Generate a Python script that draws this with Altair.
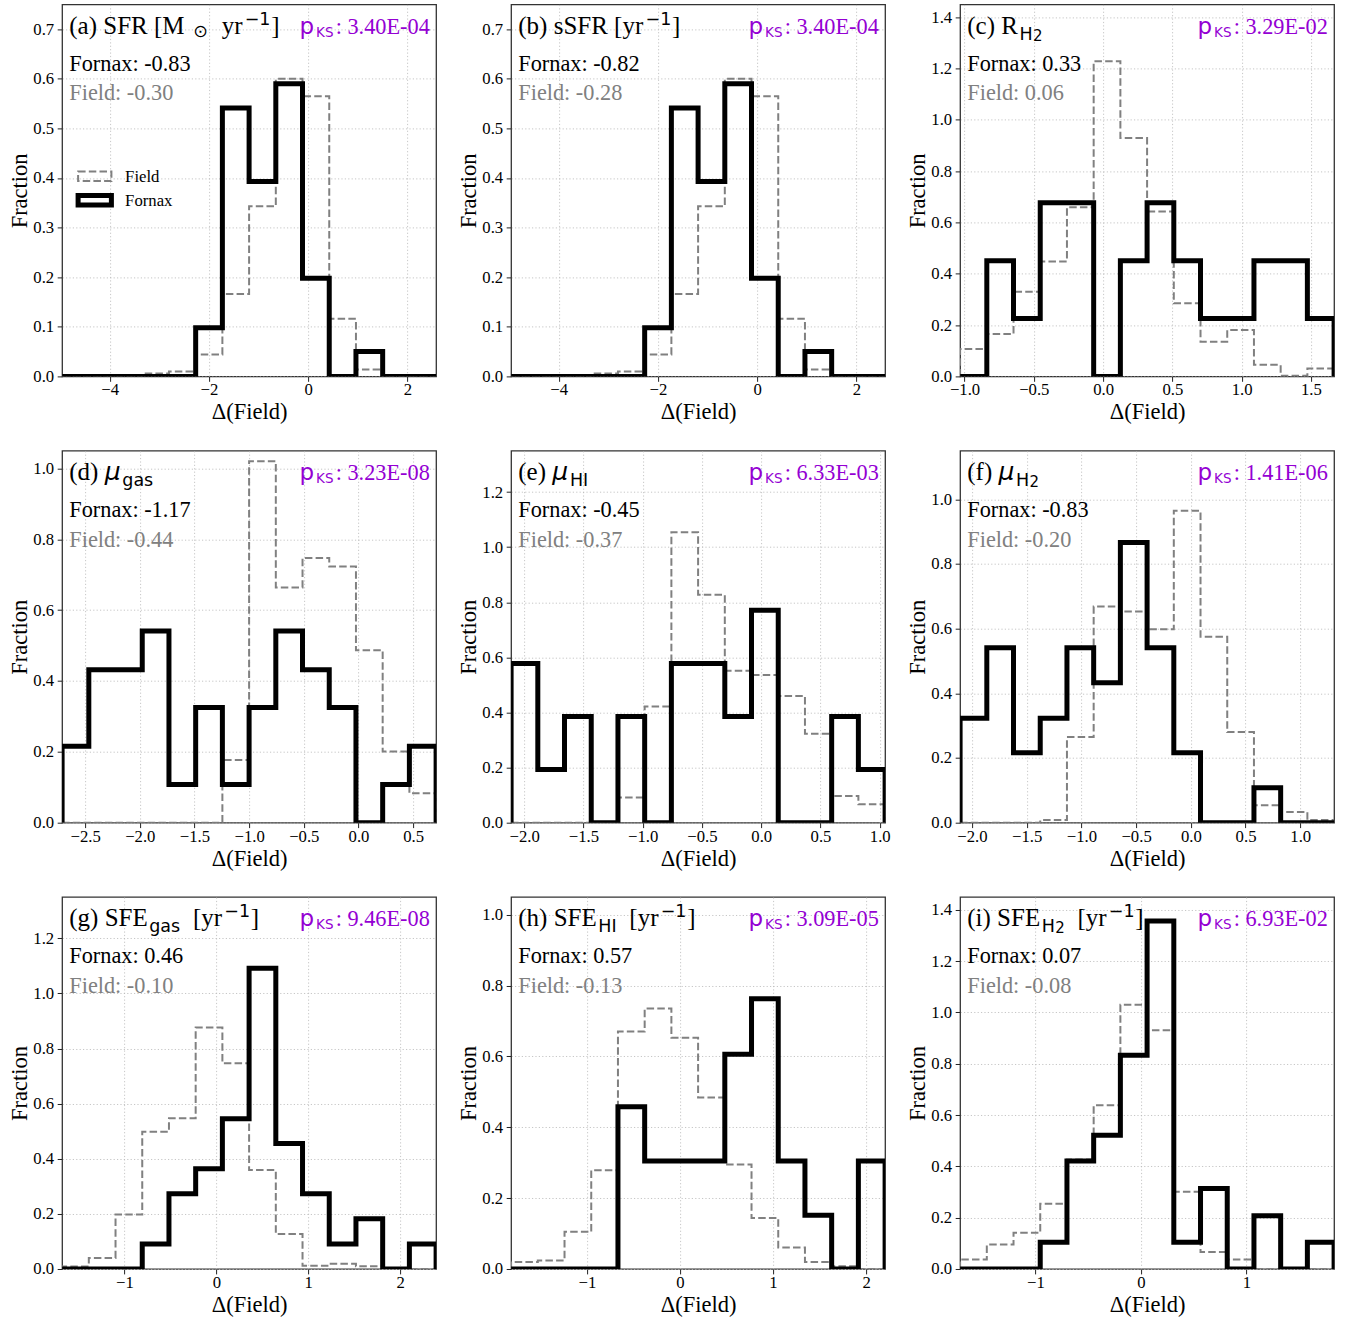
import altair as alt
import numpy as np
import pandas as pd

# ---------------- data ----------------
panel_ids = ["a", "b", "c", "d", "e", "f", "g", "h", "i"]

# histogram bin range (14 equal bins) = x-axis range
x_ranges = {
    "a": [-4.96, 2.58], "b": [-4.96, 2.58], "c": [-1.032, 1.667],
    "d": [-2.711, 0.710], "e": [-2.110, 1.045], "f": [-2.108, 1.309],
    "g": [-1.678, 2.391], "h": [-1.814, 2.204], "i": [-1.713, 1.830],
}

fornax = {
    "a": [0, 0, 0, 0, 0, 0.098, 0.541, 0.393, 0.590, 0.198, 0, 0.050, 0, 0],
    "b": [0, 0, 0, 0, 0, 0.098, 0.541, 0.393, 0.590, 0.198, 0, 0.050, 0, 0],
    "c": [0, 0.451, 0.2255, 0.677, 0.677, 0, 0.451, 0.677, 0.451, 0.2255, 0.2255, 0.451, 0.451, 0.2255],
    "d": [0.216, 0.432, 0.432, 0.541, 0.108, 0.325, 0.108, 0.325, 0.541, 0.432, 0.325, 0, 0.108, 0.216],
    "e": [0.578, 0.193, 0.385, 0, 0.385, 0, 0.578, 0.578, 0.385, 0.771, 0, 0, 0.385, 0.193],
    "f": [0.323, 0.541, 0.216, 0.323, 0.541, 0.433, 0.866, 0.541, 0.216, 0, 0, 0.108, 0, 0],
    "g": [0, 0, 0, 0.091, 0.273, 0.364, 0.545, 1.091, 0.455, 0.273, 0.091, 0.182, 0, 0.091],
    "h": [0, 0, 0, 0, 0.458, 0.305, 0.305, 0.305, 0.606, 0.763, 0.305, 0.152, 0, 0.305],
    "i": [0, 0, 0, 0.104, 0.421, 0.521, 0.833, 1.356, 0.104, 0.314, 0, 0.208, 0, 0.104],
}

field = {
    "a": [0, 0, 0, 0.006, 0.010, 0.044, 0.166, 0.343, 0.600, 0.565, 0.116, 0.014, 0, 0],
    "b": [0, 0, 0, 0.006, 0.010, 0.044, 0.166, 0.343, 0.600, 0.565, 0.116, 0.014, 0, 0],
    "c": [0.107, 0.165, 0.330, 0.448, 0.659, 1.228, 0.929, 0.643, 0.285, 0.135, 0.181, 0.045, 0.003, 0.031],
    "d": [0, 0, 0, 0, 0, 0, 0.177, 1.020, 0.664, 0.747, 0.723, 0.487, 0.201, 0.083],
    "e": [0, 0, 0, 0, 0.091, 0.422, 1.054, 0.827, 0.551, 0.536, 0.460, 0.323, 0.097, 0.067],
    "f": [0, 0, 0, 0.008, 0.265, 0.668, 0.653, 0.598, 0.964, 0.575, 0.280, 0.054, 0.033, 0.008],
    "g": [0.009, 0.040, 0.198, 0.498, 0.547, 0.876, 0.747, 0.359, 0.127, 0.012, 0.019, 0.010, 0.002, 0.0],
    "h": [0.020, 0.024, 0.105, 0.279, 0.670, 0.735, 0.653, 0.484, 0.295, 0.144, 0.061, 0.020, 0.008, 0.0],
    "i": [0.037, 0.095, 0.141, 0.254, 0.427, 0.638, 1.030, 0.931, 0.301, 0.066, 0.037, 0, 0, 0],
}

x_ticks = {
    "a": [-4, -2, 0, 2], "b": [-4, -2, 0, 2],
    "c": [-1.0, -0.5, 0.0, 0.5, 1.0, 1.5],
    "d": [-2.5, -2.0, -1.5, -1.0, -0.5, 0.0, 0.5],
    "e": [-2.0, -1.5, -1.0, -0.5, 0.0, 0.5, 1.0],
    "f": [-2.0, -1.5, -1.0, -0.5, 0.0, 0.5, 1.0],
    "g": [-1, 0, 1, 2], "h": [-1, 0, 1, 2], "i": [-1, 0, 1],
}
x_format = {"a": "d", "b": "d", "c": ".1f", "d": ".1f", "e": ".1f",
            "f": ".1f", "g": "d", "h": "d", "i": "d"}

y_ticks = {
    "a": [0.0, 0.1, 0.2, 0.3, 0.4, 0.5, 0.6, 0.7],
    "b": [0.0, 0.1, 0.2, 0.3, 0.4, 0.5, 0.6, 0.7],
    "c": [0.0, 0.2, 0.4, 0.6, 0.8, 1.0, 1.2, 1.4],
    "d": [0.0, 0.2, 0.4, 0.6, 0.8, 1.0],
    "e": [0.0, 0.2, 0.4, 0.6, 0.8, 1.0, 1.2],
    "f": [0.0, 0.2, 0.4, 0.6, 0.8, 1.0],
    "g": [0.0, 0.2, 0.4, 0.6, 0.8, 1.0, 1.2],
    "h": [0.0, 0.2, 0.4, 0.6, 0.8, 1.0],
    "i": [0.0, 0.2, 0.4, 0.6, 0.8, 1.0, 1.2, 1.4],
}
y_max = {"a": 0.75, "b": 0.75, "c": 1.45, "d": 1.05, "e": 1.35,
         "f": 1.15, "g": 1.35, "h": 1.05, "i": 1.45}

fornax_median = {"a": "-0.83", "b": "-0.82", "c": "0.33", "d": "-1.17", "e": "-0.45",
                 "f": "-0.83", "g": "0.46", "h": "0.57", "i": "0.07"}
field_median = {"a": "-0.30", "b": "-0.28", "c": "0.06", "d": "-0.44", "e": "-0.37",
                "f": "-0.20", "g": "-0.10", "h": "-0.13", "i": "-0.08"}
p_ks = {"a": "3.40E-04", "b": "3.40E-04", "c": "3.29E-02", "d": "3.23E-08", "e": "6.33E-03",
        "f": "1.41E-06", "g": "9.46E-08", "h": "3.09E-05", "i": "6.93E-02"}

# panel titles: (text, kind, gap before)
titles = {
    "a": [("(a) SFR [M", "main", 0), ("⊙", "odot", 8.7), ("yr", "main", 13.75), ("−1", "sup", 2.2), ("]", "main", 0.7)],
    "b": [("(b) sSFR [yr", "main", 0), ("−1", "sup", 2.2), ("]", "main", 0.7)],
    "c": [("(c) R", "main", 0), ("H", "sub", 1.5), ("2", "sub2", 0.3)],
    "d": [("(d)", "main", 0), ("μ", "mu", 6.25), ("gas", "sub", 1.7)],
    "e": [("(e)", "main", 0), ("μ", "mu", 6.25), ("HI", "sub", 1.7)],
    "f": [("(f)", "main", 0), ("μ", "mu", 6.25), ("H", "sub", 1.7), ("2", "sub2", 0.3)],
    "g": [("(g) SFE", "main", 0), ("gas", "sub", 1.5), ("[yr", "main", 12.75), ("−1", "sup", 2.2), ("]", "main", 0.7)],
    "h": [("(h) SFE", "main", 0), ("HI", "sub", 1.5), ("[yr", "main", 12.75), ("−1", "sup", 2.2), ("]", "main", 0.7)],
    "i": [("(i) SFE", "main", 0), ("H", "sub", 1.5), ("2", "sub2", 0.3), ("[yr", "main", 12.75), ("−1", "sup", 2.2), ("]", "main", 0.7)],
}

# ---------------- styling ----------------
W, H = 374, 372
SERIF = "Liberation Serif"
SANS = "DejaVu Sans"
GRAY = "#808080"
PURPLE = "#9400D3"

SERIF_W = {"(": .333, ")": .333, "[": .333, "]": .333, " ": .25, "a": .444, "b": .5,
           "c": .444, "d": .5, "e": .444, "f": .333, "g": .5, "h": .5, "i": .278,
           "M": .889, "S": .556, "F": .556, "R": .667, "E": .611, "s": .389,
           "y": .5, "r": .333}
SANS_W = {"−": .838, "1": .636, "2": .636, "H": .752, "I": .295, "g": .635,
          "a": .613, "s": .521, "μ": .636, "⊙": .838}

KIND = {
    "main": dict(font=SERIF, size=25, base=29.5, style="normal", table=SERIF_W),
    "mu": dict(font=SANS, size=25, base=29.5, style="italic", table=SANS_W),
    "sub": dict(font=SANS, size=17.5, base=35.5, style="normal", table=SANS_W),
    "sub2": dict(font=SANS, size=15, base=36.5, style="normal", table=SANS_W),
    "sup": dict(font=SANS, size=17.5, base=20.5, style="normal", table=SANS_W),
    "odot": dict(font=SANS, size=17.5, base=33.0, style="normal", table=SANS_W),
}


def text_width(s, table, size):
    return sum(table.get(ch, 0.5) for ch in s) * size


def one_row():
    return alt.Data(values=[{"k": 0}])


def text_layer(txt, x, y, font, size, color="black", align="left", style="normal"):
    return alt.Chart(one_row()).mark_text(
        text=txt, font=font, fontSize=size, fontStyle=style, color=color,
        align=align, baseline="alphabetic"
    ).encode(x=alt.value(x), y=alt.value(y))


def title_layers(pieces, x0=7.2):
    x = x0
    out = []
    for txt, kind, gap in pieces:
        k = KIND[kind]
        x += gap
        out.append(text_layer(txt, x, k["base"], k["font"], k["size"], style=k["style"]))
        x += text_width(txt, k["table"], k["size"])
    return out


def step_frame(edges, heights):
    xs = [edges[0]] + list(edges[:-1]) + [edges[-1], edges[-1]]
    ys = [0.0] + list(heights) + [heights[-1], 0.0]
    return pd.DataFrame({"x": xs, "y": ys, "o": list(range(len(xs)))})


def panel(pid):
    lo, hi = x_ranges[pid]
    edges = np.linspace(lo, hi, len(fornax[pid]) + 1)
    xenc = alt.X("x:Q", scale=alt.Scale(domain=[lo, hi], nice=False, zero=False),
                 axis=alt.Axis(values=x_ticks[pid], format=x_format[pid], title="Δ(Field)",
                               titleY=42.6, titleBaseline="alphabetic", labelPadding=0.5))
    yenc = alt.Y("y:Q", scale=alt.Scale(domain=[0, y_max[pid]], nice=False, zero=False),
                 axis=alt.Axis(values=y_ticks[pid], format=".1f", title="Fraction",
                               titleX=-35.7, titleAngle=270, titleBaseline="alphabetic",
                               labelPadding=3.5))
    fld = alt.Chart(step_frame(edges, field[pid])).mark_line(
        interpolate="step-after", color=GRAY, strokeWidth=2, strokeDash=[7.5, 3.2],
        clip=True, strokeJoin="miter"
    ).encode(x=xenc, y=yenc, order=alt.Order("o:Q"))
    frn = alt.Chart(step_frame(edges, fornax[pid])).mark_line(
        interpolate="step-after", color="black", strokeWidth=5,
        clip=True, strokeJoin="miter"
    ).encode(x=xenc, y=yenc, order=alt.Order("o:Q"))

    layers = [fld, frn]
    layers += title_layers(titles[pid])
    layers.append(text_layer("Fornax: " + fornax_median[pid], 7.2, 66.5, SERIF, 22.3))
    layers.append(text_layer("Field: " + field_median[pid], 7.2, 96, SERIF, 22.3, color=GRAY))
    # p_KS
    layers.append(text_layer("p", W - 136.5, 29.5, SANS, 23, color=PURPLE))
    layers.append(text_layer("KS", W - 120, 32.5, SANS, 13.5, color=PURPLE))
    layers.append(text_layer(": " + p_ks[pid], W - 6.3, 29.5, SERIF, 22.3, color=PURPLE, align="right"))

    if pid == "a":
        layers.append(alt.Chart(one_row()).mark_rect(
            fillOpacity=0, stroke=GRAY, strokeWidth=2, strokeDash=[7.5, 3.2]
        ).encode(x=alt.value(16), x2=alt.value(49.3), y=alt.value(167), y2=alt.value(176.7)))
        layers.append(alt.Chart(one_row()).mark_rect(
            fillOpacity=0, stroke="black", strokeWidth=5
        ).encode(x=alt.value(16), x2=alt.value(49.3), y=alt.value(191.2), y2=alt.value(200.5)))
        layers.append(text_layer("Field", 63, 177.7, SERIF, 16.7))
        layers.append(text_layer("Fornax", 63, 202, SERIF, 16.7))

    return alt.layer(*layers).properties(width=W, height=H)


chart = alt.concat(
    *[panel(p) for p in panel_ids],
    columns=3,
    spacing={"row": 74.3, "column": 75},
    bounds="flush",
).properties(
    padding={"left": 7.1, "top": 3.4, "right": 5, "bottom": 0}
).configure_axis(
    labelFont=SERIF, labelFontSize=16.7, labelColor="black",
    titleFont=SERIF, titleFontSize=22.5, titleFontWeight="normal", titleColor="black",
    tickColor="#222222", tickSize=4.9, tickWidth=1,
    domain=False, grid=True, gridColor="#b8b8b8", gridDash=[1.2, 2.2], gridWidth=0.8,
    labelFlush=False, labelOverlap=False,
).configure_view(
    stroke="#333333", strokeWidth=1.3
)

chart.save("out.html", embed_options={"renderer": "svg", "actions": False})
